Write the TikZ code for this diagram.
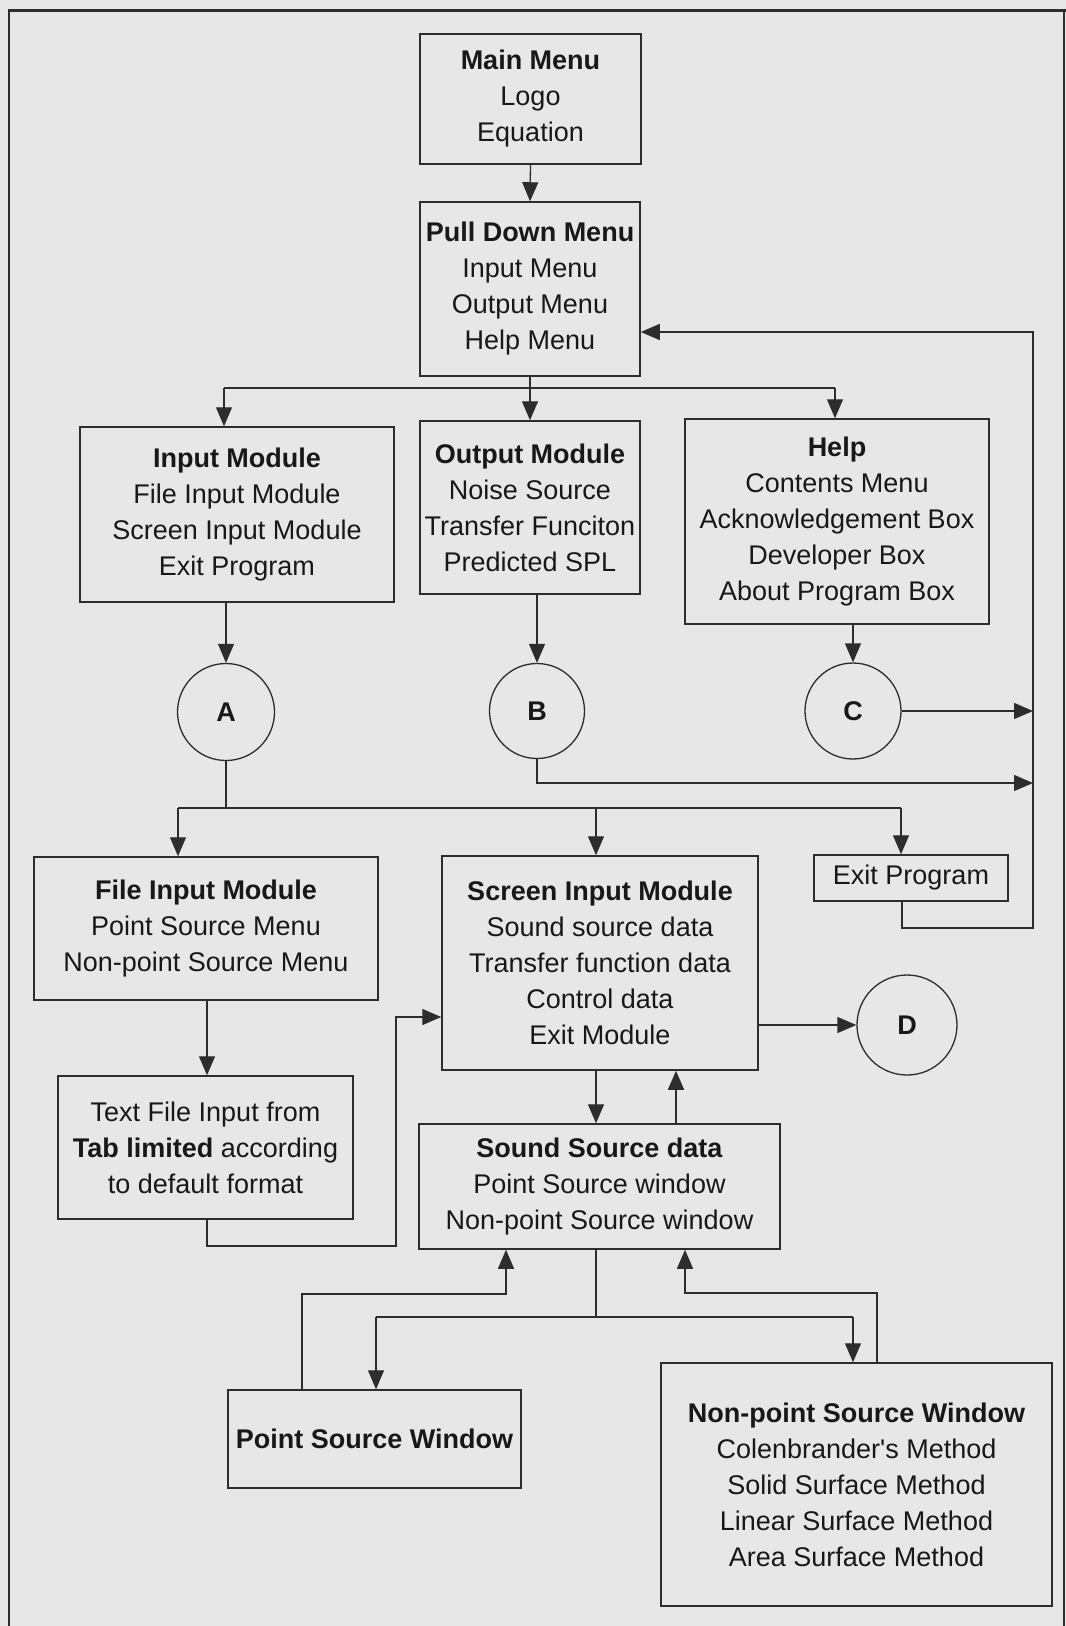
\documentclass[tikz,border=0pt]{standalone}
\usepackage{fontspec}
\setmainfont{Liberation Sans}[Ligatures=TeXOff]
\usetikzlibrary{arrows.meta,calc}
\definecolor{paper}{RGB}{231,231,231}
\definecolor{ink}{RGB}{24,24,24}
\definecolor{rule}{RGB}{45,45,45}
\begin{document}
\begin{tikzpicture}[x=1pt,y=-1pt,
  box/.style={draw=rule, line width=1.5pt, fill=paper, inner sep=0pt, align=center,
    text=ink, font=\fontsize{27}{36}\selectfont},
  circ/.style={circle, draw=rule, line width=1.3pt, fill=paper, inner sep=0pt,
    text=ink, font=\fontsize{27}{36}\selectfont\bfseries},
  wire/.style={draw=rule, line width=1.3pt},
  arr/.style={wire, -{Triangle[length=19pt,width=16pt]}}]

% page and frame
\useasboundingbox (0,0) rectangle (1066,1626);
\fill[paper] (0,0) rectangle (1066,1626);
\draw[rule, line width=2pt] (9,1626) -- (9,10);
\draw[rule, line width=2pt] (1064,10) -- (1064,1626);
\draw[rule, line width=3pt] (8,10) -- (1066,10);

% menus
\node[box, minimum width=221pt, minimum height=130pt] (main) at (530.5,99)
  {\textbf{Main Menu}\\Logo\\Equation};
\node[box, minimum width=220pt, minimum height=174pt] (pull) at (530,289)
  {\textbf{Pull Down Menu}\\Input Menu\\Output Menu\\Help Menu};

% modules
\node[box, minimum width=314pt, minimum height=175pt] (inmod) at (237,514.5)
  {\textbf{Input Module}\\File Input Module\\Screen Input Module\\Exit Program};
\node[box, minimum width=220pt, minimum height=173pt] (outmod) at (530,507.5)
  {\textbf{Output Module}\\Noise Source\\Transfer Funciton\\Predicted SPL};
\node[box, minimum width=304pt, minimum height=205pt] (help) at (837,521.5)
  {\textbf{Help}\\Contents Menu\\Acknowledgement Box\\Developer Box\\About Program Box};

% connectors A, B, C, D
\node[circ, minimum size=97pt] (A) at (226,712) {A};
\node[circ, minimum size=95pt] (B) at (537,711) {B};
\node[circ, minimum size=96pt] (C) at (853,711) {C};
\node[circ, minimum size=100pt] (D) at (907,1025) {D};

% input sub-modules
\node[box, minimum width=344pt, minimum height=143pt] (fim) at (206,928.5)
  {\textbf{File Input Module}\\Point Source Menu\\Non-point Source Menu};
\node[box, minimum width=316pt, minimum height=214pt] (sim) at (600,963)
  {\textbf{Screen Input Module}\\Sound source data\\Transfer function data\\Control data\\Exit Module};
\node[box, minimum width=194pt, minimum height=46pt] (exitp) at (911,878)
  {Exit Program};
\node[box, minimum width=295pt, minimum height=143pt] (txt) at (205.5,1147.5)
  {Text File Input from\\\textbf{Tab limited} according\\to default format};
\node[box, minimum width=361pt, minimum height=125pt] (snd) at (599.5,1186.5)
  {\textbf{Sound Source data}\\Point Source window\\Non-point Source window};
\node[box, minimum width=293pt, minimum height=98pt] (psw) at (374.5,1439)
  {\textbf{Point Source Window}};
\node[box, minimum width=391pt, minimum height=243pt] (npsw) at (856.5,1484.5)
  {\textbf{Non-point Source Window}\\Colenbrander's Method\\Solid Surface Method\\Linear Surface Method\\Area Surface Method};

% main menu to pull down menu
\draw[arr] (main.south) -- (pull.north);

% pull down menu to the three modules
\coordinate (tbL) at (224,388);
\coordinate (tbR) at (835,388);
\draw[wire] (pull.south) -- (pull.south |- tbL);
\draw[wire] (tbL) -- (tbR);
\draw[arr] (tbL) -- (tbL |- inmod.north);
\draw[arr] (pull.south |- tbL) -- (outmod.north);
\draw[arr] (tbR) -- (tbR |- help.north);

% modules to connectors
\draw[arr] (A |- inmod.south) -- (A.north);
\draw[arr] (B |- outmod.south) -- (B.north);
\draw[arr] (C |- help.south) -- (C.north);

% return rail on the right
\coordinate (rail) at (1033,332);
\draw[arr] (C.east) -- (C.east -| rail);
\coordinate (bTurn) at (537,783);
\draw[arr] (B.south) -- (bTurn) -- (bTurn -| rail);
\coordinate (eTurn) at (902,928);
\draw[arr] (eTurn |- exitp.south) -- (eTurn) -- (eTurn -| rail) -- (rail) -- (rail -| pull.east);

% A to the input sub-modules
\coordinate (mbL) at (178,808);
\coordinate (mbM) at (596,808);
\coordinate (mbR) at (901,808);
\draw[wire] (A.south) -- (A.south |- mbL);
\draw[wire] (mbL) -- (mbR);
\draw[arr] (mbL) -- (mbL |- fim.north);
\draw[arr] (mbM) -- (mbM |- sim.north);
\draw[arr] (mbR) -- (mbR |- exitp.north);

% screen input module to D
\draw[arr] (sim.east |- D) -- (D.west);

% file input chain
\coordinate (ftx) at (207,0);
\draw[arr] (ftx |- fim.south) -- (ftx |- txt.north);
\coordinate (tLow) at (207,1246);
\coordinate (tUp) at (396,1017);
\draw[arr] (tLow |- txt.south) -- (tLow) -- (tLow -| tUp) -- (tUp) -- (tUp -| sim.west);

% screen input module and sound source data
\coordinate (dnx) at (596,0);
\coordinate (upx) at (676,0);
\draw[arr] (dnx |- sim.south) -- (dnx |- snd.north);
\draw[arr] (upx |- snd.north) -- (upx |- sim.south);

% sound source data to the two windows
\coordinate (bbL) at (376,1317);
\coordinate (bbM) at (596,1317);
\coordinate (bbR) at (853,1317);
\draw[wire] (bbM |- snd.south) -- (bbM);
\draw[wire] (bbL) -- (bbR);
\draw[arr] (bbL) -- (bbL |- psw.north);
\draw[arr] (bbR) -- (bbR |- npsw.north);

% windows back to sound source data
\coordinate (pr) at (302,1294);
\coordinate (prT) at (506,1294);
\draw[arr] (pr |- psw.north) -- (pr) -- (prT) -- (prT |- snd.south);
\coordinate (nr) at (877,1293);
\coordinate (nrT) at (685,1293);
\draw[arr] (nr |- npsw.north) -- (nr) -- (nrT) -- (nrT |- snd.south);
\end{tikzpicture}
\end{document}
